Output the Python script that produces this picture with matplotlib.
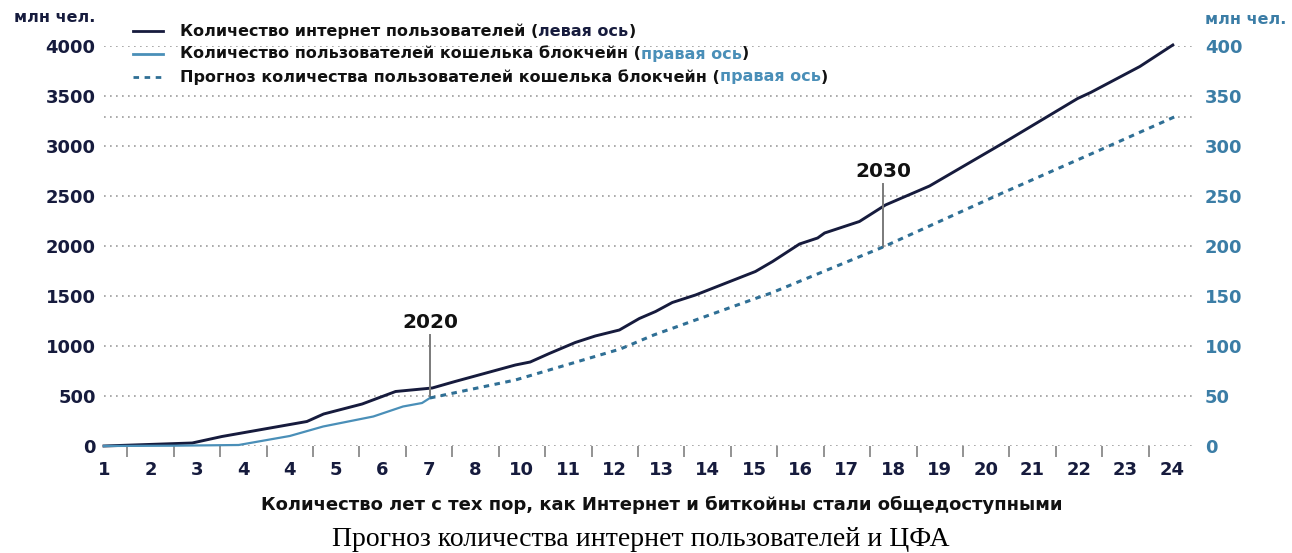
import numpy as np
import matplotlib
matplotlib.use('Agg')
import matplotlib.pyplot as plt
from matplotlib.lines import Line2D

# x positions are slots on the categorical axis (0 = label "1", 23 = label "24")
x_labels = ['1', '2', '3', '4', '4', '5', '6', '7', '8', '10', '11', '12',
            '13', '14', '15', '16', '17', '18', '19', '20', '21', '22', '23', '24']

# internet users, left axis (млн чел.)
inet_x = [0, 1.9, 2.54, 4.37, 4.73, 5.56, 6.28, 7.07, 7.56, 8.86, 9.18, 9.59,
          10.15, 10.58, 11.10, 11.53, 11.88, 12.24, 12.74, 14.03, 14.40, 14.98,
          15.37, 15.52, 16.27, 16.83, 17.78, 19.35, 20.43, 20.97, 21.25, 22.31, 23.02]
inet_y = [0, 30, 95, 245, 320, 420, 545, 580, 645, 810, 840, 925,
          1035, 1100, 1160, 1275, 1345, 1435, 1510, 1745, 1845, 2020,
          2080, 2130, 2245, 2410, 2600, 3025, 3325, 3475, 3535, 3795, 4010]

# blockchain wallet users, right axis (млн чел.)
wallet_x = [0, 1.5, 2.9, 3.51, 4.0, 4.72, 5.80, 6.44, 6.85, 7.02]
wallet_y = [0, 0.3, 1, 6, 10, 19.5, 29.5, 39.5, 43, 48]

# forecast of wallet users, right axis
fc_x = [7.02, 8.86, 11.12, 11.84, 14.06, 14.37, 16.78, 19.3, 21.5, 23.05]
fc_y = [48, 66, 97, 111, 148, 153, 199, 252, 297, 329]

year_marks = {'2020': 7.02, '2030': 16.78}

navy = '#161b3d'
blue = '#4a8fb8'
dblue = '#2f6f95'
rblue = '#3b7da6'
grid_c = '#9c9c9c'
dots = (0, (1, 2.6))

plt.rcParams['font.family'] = ['DejaVu Sans']
plt.rcParams['font.weight'] = 'bold'

W, H = 1292, 553
fig = plt.figure(figsize=(W / 100, H / 100), dpi=100)
step = 46.43
ax = fig.add_axes([104 / W, (H - 446) / H, (1195 - 104) / W, 400 / H])
ax.set_xlim(0, (1195 - 104) / step)
ax.set_ylim(0, 4000)
ax2 = ax.twinx()
ax2.set_ylim(0, 400)

for a in (ax, ax2):
    for s in a.spines.values():
        s.set_visible(False)

ax.set_yticks(range(0, 4001, 500))
ax.yaxis.grid(True, linestyle=dots, color=grid_c, linewidth=1.2)
ax.axhline(fc_y[-1] * 10, linestyle=dots, color=grid_c, linewidth=1.2, zorder=0)
ax.set_axisbelow(True)
ax.tick_params(axis='y', length=0, pad=6, labelsize=13, labelcolor=navy)

ax.set_xticks(range(len(x_labels)))
ax.set_xticklabels(x_labels)
ax.set_xticks(np.arange(0.5, len(x_labels) - 1, 1), minor=True)
ax.tick_params(axis='x', which='major', length=0, pad=11, labelsize=13, labelcolor=navy)
ax.tick_params(axis='x', which='minor', direction='out', length=8, width=1.3, color='#8a8a8a')

ax2.set_yticks(range(0, 401, 50))
ax2.tick_params(axis='y', length=0, pad=7, labelsize=13, labelcolor=rblue)

ax.plot(inet_x, inet_y, color=navy, lw=2.1, clip_on=False, zorder=3)
ax2.plot(wallet_x, wallet_y, color=blue, lw=1.6, clip_on=False, zorder=3)
ax2.plot(fc_x, fc_y, color=dblue, lw=2.2, dashes=(1.8, 1.8), clip_on=False, zorder=3)

# year markers
for yr, xv in year_marks.items():
    bottom = np.interp(xv, fc_x, fc_y) * 10
    top = bottom + 630
    ax.plot([xv, xv], [bottom, top], color='#7a7a7a', lw=1.4, zorder=4)
    ax.text(xv, top + 30, yr, ha='center', va='bottom', fontsize=14.5, color='#111111')

# units
fig.text(95 / W, 1 - 18 / H, 'млн чел.', ha='right', va='center', fontsize=11.5, color=navy)
fig.text(1205 / W, 1 - 20 / H, 'млн чел.', ha='left', va='center', fontsize=11.5, color=rblue)

# legend
fig.canvas.draw()
renderer = fig.canvas.get_renderer()


def seg_text(x_px, y_px, parts, size=11.5):
    for txt, col in parts:
        t = fig.text(x_px / W, 1 - y_px / H, txt, ha='left', va='center',
                     fontsize=size, color=col)
        x_px += t.get_window_extent(renderer).width


leg = [
    ((navy, '-', None), [('Количество интернет пользователей (', '#111111'),
                         ('левая ось', navy), (')', '#111111')]),
    ((blue, '-', None), [('Количество пользователей кошелька блокчейн (', '#111111'),
                         ('правая ось', blue), (')', '#111111')]),
    ((dblue, '--', (2, 2)), [('Прогноз количества пользователей кошелька блокчейн (', '#111111'),
                             ('правая ось', blue), (')', '#111111')]),
]
for i, ((col, ls, dash), parts) in enumerate(leg):
    y = 31 + 23 * i
    ln = Line2D([133 / W, 163 / W], [1 - y / H, 1 - y / H], transform=fig.transFigure,
                color=col, lw=2.0)
    if dash:
        ln.set_dashes(dash)
    fig.add_artist(ln)
    seg_text(180, y, parts)

fig.text(662 / W, 1 - 505 / H,
         'Количество лет с тех пор, как Интернет и биткойны стали общедоступными',
         ha='center', va='center', fontsize=13, color='#111111')
fig.text(641 / W, 1 - 540 / H, 'Прогноз количества интернет пользователей и ЦФА',
         ha='center', va='center', fontsize=20, fontweight='normal',
         family='Liberation Serif', color='black')

fig.savefig('out.png', dpi=100, facecolor='white')
